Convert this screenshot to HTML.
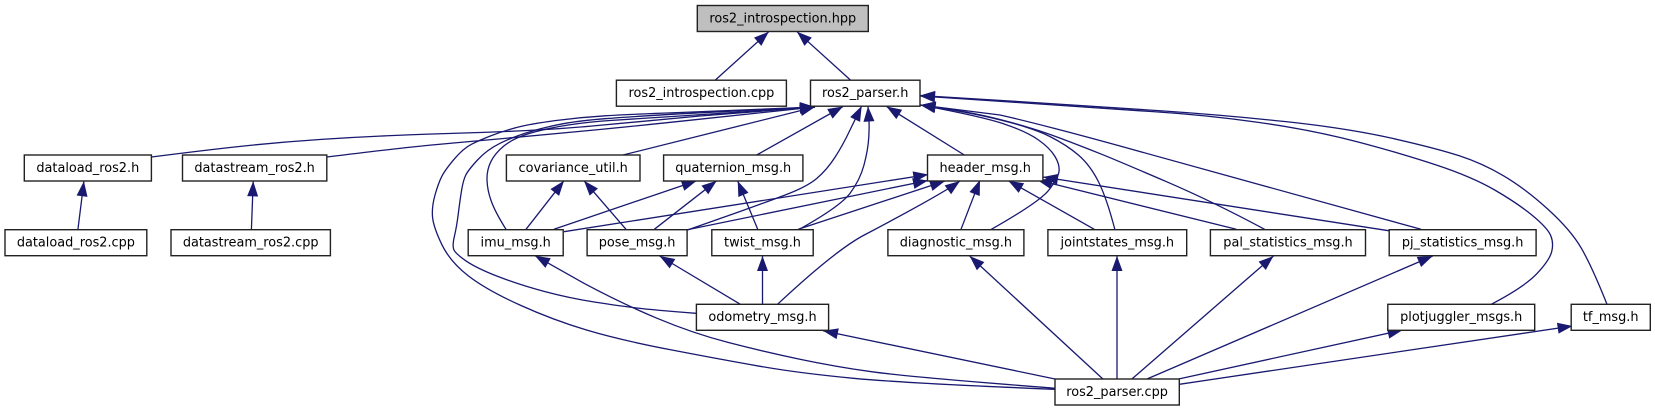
<!DOCTYPE html>
<html><head><meta charset="utf-8"><title>ros2_introspection.hpp</title>
<style>
html,body{margin:0;padding:0;background:#fff;width:1655px;height:411px;overflow:hidden}
svg{display:block}
text{font-family:"DejaVu Sans","Liberation Sans",sans-serif;font-size:12.87px;text-anchor:middle;fill:#000}
.b{fill:#fff;stroke:#222;stroke-width:1.4}
.e{fill:none;stroke:#191970;stroke-width:1.3;marker-end:url(#a)}
</style></head><body>
<svg width="1655" height="411" viewBox="0 0 1655 411" xmlns="http://www.w3.org/2000/svg">
<defs><marker id="a" markerUnits="userSpaceOnUse" markerWidth="17" markerHeight="13" refX="15.5" refY="6" orient="auto"><polygon points="0.5,0.5 15.5,6 0.5,11.5" fill="#191970"/></marker></defs>
<g>
<path class="e" d="M715.4 80L768.8 31.7"/>
<path class="e" d="M850.4 80L797 31.7"/>
<path class="e" d="M77.9 229.7L83.9 181.3"/>
<path class="e" d="M251.4 229.7L253.2 181.3"/>
<path class="e" d="M151.4 157Q214 149 250 145.35Q286 141.7 321.5 139.35Q357 137 393.5 135.5Q430 134 460 133.15Q490 132.3 525 130.65Q560 129 595 125.75Q630 122.5 700 116L815 107"/>
<path class="e" d="M326.8 157Q380 150.5 405 147.75Q430 145 455 142.85Q480 140.7 505 138.35Q530 136 580 131.35Q630 126.7 700 119.2L815 107"/>
<path class="e" d="M506 229.3Q495 211.7 491.15 200.85Q487.3 190 487 180Q486.7 170 490.85 161.65Q495 153.3 504.15 145.8Q513.3 138.3 530 133.3Q546.7 128.3 568.35 125Q590 121.7 610 120.5Q630 119.3 680 116L815 107"/>
<path class="e" d="M696 313.3Q653.3 310 636.65 308Q620 306 595 302.15Q570 298.3 545 291.65Q520 285 498.35 276.65Q476.7 268.3 465.85 260.8Q455 253.3 453.65 249.15Q452.3 245 454.5 235.85Q456.7 226.7 458.35 213.35Q460 200 461.65 190Q463.3 180 465.8 175Q468.3 170 477.5 160Q486.7 150 500 143.35Q513.3 136.7 530 131.7Q546.7 126.7 563.35 123.7Q580 120.7 605 118.7Q630 116.7 680 113.8L815 107"/>
<path class="e" d="M1055 389.3Q907 383.3 853.5 378.3Q800 373.3 760 366.3Q720 359.3 670 349.65Q620 340 586.5 330Q553 320 519.85 305Q486.7 290 468.35 275.85Q450 261.7 441.65 244.2Q433.3 226.7 432.5 216.7Q431.7 206.7 435 195Q438.3 183.3 441.65 176.65Q445 170 454.15 159.15Q463.3 148.3 471.65 144.15Q480 140 491.65 135.5Q503.3 131 516.65 127.5Q530 124 555 120.65Q580 117.3 605 115.8Q630 114.3 680 112.5L815 107"/>
<path class="e" d="M623 155L815 107"/>
<path class="e" d="M756.7 155L843 106.5"/>
<path class="e" d="M687.5 230L740 211.5Q764 203 785.5 194.85Q807 186.7 816.85 178.35Q826.7 170 834.85 157.5Q843 145 850 130L861.7 106"/>
<path class="e" d="M798 230Q840 206.7 850 193.35Q860 180 864 165Q868 150 868.75 137.5Q869.5 125 868.75 118L868 106.5"/>
<path class="e" d="M964.3 155L886.5 106.5"/>
<path class="e" d="M1421 229.3L1120 146Q1040 124 1000 115L920.5 105"/>
<path class="e" d="M1264.6 229.3Q1213 201.7 1166.5 181.7Q1120 161.7 1101.5 154.2Q1083 146.7 1058 137.35Q1033 128 1000 119.5Q967 111 920.5 105"/>
<path class="e" d="M1115 230Q1106.7 198 1098.35 181.5Q1090 165 1078.35 155Q1066.7 145 1049.85 136.5Q1033 128 1000 119.85Q967 111.7 920.5 105"/>
<path class="e" d="M990.7 229.7Q1040 201.7 1049 189.85Q1058 178 1059 171.5Q1060 165 1055 156.5Q1050 148 1038.35 139.85Q1026.7 131.7 1004.85 124.2Q983 116.7 920.5 105"/>
<path class="e" d="M1607 304.3Q1592 266.7 1581.4 248.35Q1570.8 230 1547.8 209.15Q1524.8 188.3 1503.55 175.8Q1482.3 163.3 1459.3 155.8Q1436.3 148.3 1392.05 138.3Q1347.8 128.3 1285.85 121.65Q1223.9 115 1161.95 110.85Q1100 106.7 1010 101L920 95.5"/>
<path class="e" d="M1491.2 304.3Q1524.8 286.7 1537.2 273.35Q1549.6 260 1551.7 251.65Q1553.8 243.3 1550.8 235.8Q1547.8 228.3 1532.75 215.8Q1517.7 203.3 1494.7 190Q1471.7 176.7 1436.3 165Q1400.9 153.3 1356.65 141.65Q1312.4 130 1259.3 122.5Q1206.2 115 1153.1 111.65Q1100 108.3 1010 102L920 96"/>
<path class="e" d="M1055 388.3Q907 376.7 871.35 371.7Q835.7 366.7 799.85 359.2Q764 351.7 728.45 342.5Q692.9 333.3 657.15 318.3Q621.4 303.3 584 283.3L535 255.7"/>
<path class="e" d="M1055 379L823 330.7"/>
<path class="e" d="M1102.9 379L969.6 256"/>
<path class="e" d="M1117 379L1117 256"/>
<path class="e" d="M1131.9 379L1273.5 256"/>
<path class="e" d="M1147 379L1432.7 256"/>
<path class="e" d="M1178.6 379L1402.7 330"/>
<path class="e" d="M1179.3 384.3L1572.6 326"/>
<path class="e" d="M740.4 304.3L659.6 256"/>
<path class="e" d="M762.5 304.3L762.5 256"/>
<path class="e" d="M777.5 304.3Q835.7 250 864.3 235Q892.9 220 921.45 204.15Q950 188.3 960 181"/>
<path class="e" d="M526 229.3L564 180.7"/>
<path class="e" d="M626 229.3L584 180.7"/>
<path class="e" d="M554 229.3L696.7 180.7"/>
<path class="e" d="M654.3 229.3L716.7 180.7"/>
<path class="e" d="M757.7 229.3L737.7 181"/>
<path class="e" d="M564 231.7L928.3 174.5"/>
<path class="e" d="M687.3 229.7L928 180.5"/>
<path class="e" d="M798.3 229.3L945 181"/>
<path class="e" d="M961 229.3L980 180"/>
<path class="e" d="M1094.3 229.3L1008.3 180.7"/>
<path class="e" d="M1236.3 229.3L1037.3 180"/>
<path class="e" d="M1388.5 230.7L1043 177"/>
</g>
<g>
<rect class="b" style="fill:#bfbfbf" x="697.3" y="5.5" width="171" height="26"/><text x="782.8" y="22.4">ros2_introspection.hpp</text>
<rect class="b" x="616.4" y="80.2" width="170" height="26"/><text x="701.4" y="97.1">ros2_introspection.cpp</text>
<rect class="b" x="810.5" y="80.2" width="109.5" height="26"/><text x="865.2" y="97.1">ros2_parser.h</text>
<rect class="b" x="24.3" y="155" width="127.1" height="26"/><text x="87.8" y="171.8">dataload_ros2.h</text>
<rect class="b" x="182.5" y="155" width="144.3" height="26"/><text x="254.6" y="171.8">datastream_ros2.h</text>
<rect class="b" x="506.4" y="155" width="133.6" height="26"/><text x="573.2" y="171.8">covariance_util.h</text>
<rect class="b" x="663.6" y="155" width="139.3" height="26"/><text x="733.2" y="171.8">quaternion_msg.h</text>
<rect class="b" x="927.5" y="155" width="115.4" height="26"/><text x="985.2" y="171.8">header_msg.h</text>
<rect class="b" x="5" y="229.7" width="141.8" height="26"/><text x="75.9" y="246.5">dataload_ros2.cpp</text>
<rect class="b" x="171" y="229.7" width="159.4" height="26"/><text x="250.7" y="246.5">datastream_ros2.cpp</text>
<rect class="b" x="468.2" y="229.7" width="95" height="26"/><text x="515.7" y="246.5">imu_msg.h</text>
<rect class="b" x="587.1" y="229.7" width="100" height="26"/><text x="637.1" y="246.5">pose_msg.h</text>
<rect class="b" x="711.8" y="229.7" width="101.4" height="26"/><text x="762.5" y="246.5">twist_msg.h</text>
<rect class="b" x="887.9" y="229.7" width="136" height="26"/><text x="955.9" y="246.5">diagnostic_msg.h</text>
<rect class="b" x="1047.9" y="229.7" width="138.8" height="26"/><text x="1117.3" y="246.5">jointstates_msg.h</text>
<rect class="b" x="1210.4" y="229.7" width="155.1" height="26"/><text x="1288" y="246.5">pal_statistics_msg.h</text>
<rect class="b" x="1389.2" y="229.7" width="146.9" height="26"/><text x="1462.6" y="246.5">pj_statistics_msg.h</text>
<rect class="b" x="696.4" y="304.3" width="132.2" height="26"/><text x="762.5" y="321.2">odometry_msg.h</text>
<rect class="b" x="1387.8" y="304.3" width="146.9" height="26"/><text x="1461.2" y="321.2">plotjuggler_msgs.h</text>
<rect class="b" x="1571.2" y="304.3" width="79.1" height="26"/><text x="1610.7" y="321.2">tf_msg.h</text>
<rect class="b" x="1055" y="379" width="124.3" height="26"/><text x="1117.1" y="395.8">ros2_parser.cpp</text>
</g>
</svg>
</body></html>
